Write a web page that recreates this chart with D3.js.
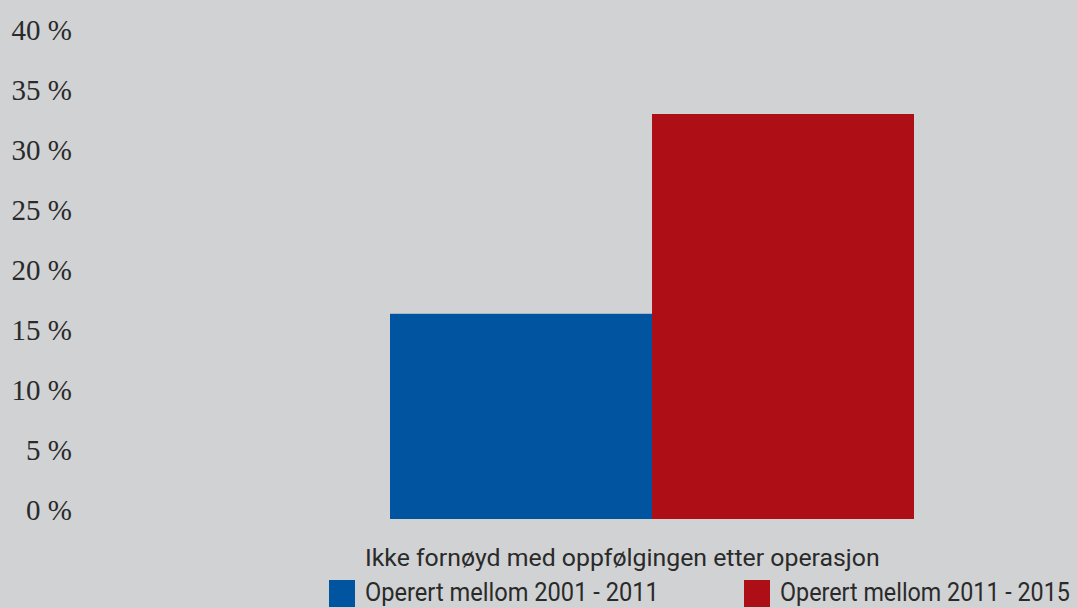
<!DOCTYPE html>
<html>
<head>
<meta charset="utf-8">
<script src="https://cdn.jsdelivr.net/npm/d3@7"></script>
<style>
  html, body { margin: 0; padding: 0; background: #d1d2d4; }
  svg { display: block; }
</style>
</head>
<body>
<svg id="chart" width="1077" height="608"></svg>
<script>
// Share not satisfied with follow-up, by operation period
const categories = ["Ikke fornøyd med oppfølgingen etter operasjon"];
const seriesNames = ["Operert mellom 2001 - 2011", "Operert mellom 2011 - 2015"];
const seriesValues = [17.1, 33.75];
const seriesColors = ["#0054a0", "#ae0e16"];
const yTicks = [0, 5, 10, 15, 20, 25, 30, 35, 40];

const svg = d3.select("#chart");
const W = 1077, H = 608;

svg.append("rect").attr("width", W).attr("height", H).attr("fill", "#d1d2d4");

const y = d3.scaleLinear().domain([0, 40]).range([519, 39]);
const x0 = d3.scaleBand().domain(categories).range([390, 914]).padding(0);
const x1 = d3.scaleBand().domain(seriesNames).range([0, x0.bandwidth()]).padding(0);

// Y axis labels only, baseline sitting on the value
const yAxis = d3.axisLeft(y).tickValues(yTicks).tickFormat(d => d + " %").tickSize(0).tickPadding(0);
const gy = svg.append("g").attr("transform", "translate(72,0)").call(yAxis);
gy.select(".domain").remove();
gy.selectAll("text")
  .attr("dy", "0")
  .attr("fill", "#2a2a2a")
  .style("font-family", "'Liberation Serif', 'Times New Roman', serif")
  .style("font-size", "29px");

// Bars
const groups = svg.append("g").selectAll("g")
  .data(categories)
  .join("g")
  .attr("transform", d => `translate(${x0(d)},0)`);

groups.selectAll("rect")
  .data(() => seriesNames.map((s, i) => ({ s, v: seriesValues[i], c: seriesColors[i] })))
  .join("rect")
  .attr("x", d => x1(d.s))
  .attr("y", d => y(d.v))
  .attr("width", x1.bandwidth())
  .attr("height", d => y(0) - y(d.v))
  .attr("fill", d => d.c);

// Condensed sans text: draw at natural width, then squeeze horizontally to fit
const sansFont = "Roboto, 'Liberation Sans', sans-serif";
function condensedText(parent, str, x, yBase, size, width) {
  const t = parent.append("text")
    .attr("fill", "#2a2a2a")
    .style("font-family", sansFont)
    .style("font-size", size + "px")
    .text(str);
  const natural = t.node().getComputedTextLength();
  t.attr("transform", `translate(${x},${yBase}) scale(${width / natural},1)`);
  return t;
}

// Category label
condensedText(svg, categories[0], 365, 566, 24, 515);

// Legend
const legendX = [329, 744];
const legendW = [294, 290];
const legend = svg.append("g");
seriesNames.forEach((name, i) => {
  legend.append("rect")
    .attr("x", legendX[i]).attr("y", 580)
    .attr("width", 26).attr("height", 27)
    .attr("fill", seriesColors[i]);
  condensedText(legend, name, legendX[i] + 36, 601, 26, legendW[i]);
});
</script>
</body>
</html>
